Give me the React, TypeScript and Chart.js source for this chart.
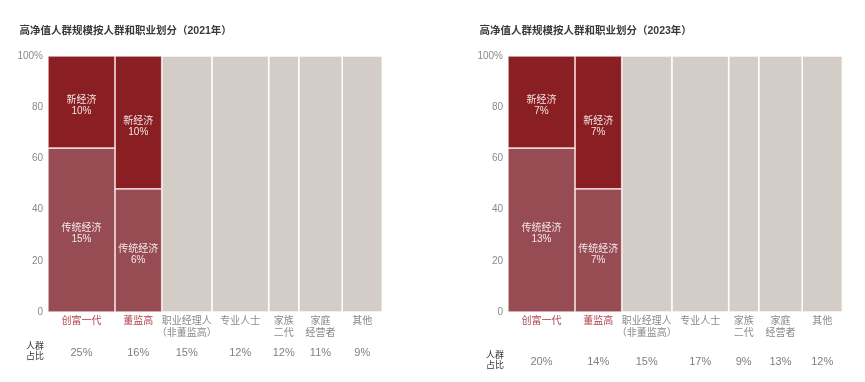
import React, { useEffect, useRef } from "react";
import { Chart, registerables } from "chart.js";

Chart.register(...registerables);

// ---------------- data ----------------
const categories: string[][] = [
  ["创富一代"],
  ["董监高"],
  ["职业经理人", "（非董监高）"],
  ["专业人士"],
  ["家族", "二代"],
  ["家庭", "经营者"],
  ["其他"],
];
const share2021 = [25, 16, 15, 12, 12, 11, 9];
const share2023 = [20, 14, 15, 17, 9, 13, 12];
// column widths as drawn in the reference (both panels drawn with the 2023 shares)
const columnWidths = share2023;
const newEconomy2021 = [10, 10];
const traditional2021 = [15, 6];
const newEconomy2023 = [7, 7];
const traditional2023 = [13, 7];
// height (%) of the 传统经济 segment inside each highlighted column
const traditionalHeight = [64, 48];
const segmentNames = ["新经济", "传统经济"];
const shareRowTitle = ["人群", "占比"];

// ---------------- style ----------------
const COLOR_NEW = "#8a1f23";
const COLOR_TRAD = "#974c53";
const COLOR_GRAY = "#d4ccc6";
const COLOR_RED_TEXT = "#b2434c";
const COLOR_GRAY_TEXT = "#8a8a8a";
const FONT = "'Liberation Sans', 'Noto Sans CJK SC', sans-serif";

function rect(x0: number, x1: number, y0: number, y1: number, color: string, border: string) {
  return {
    type: "line" as const,
    data: [
      { x: x0, y: y0 },
      { x: x1, y: y0 },
      { x: x1, y: y1 },
      { x: x0, y: y1 },
      { x: x0, y: y0 },
    ],
    fill: "shape",
    backgroundColor: color,
    borderColor: border,
    borderWidth: 1.5,
    pointRadius: 0,
    pointHoverRadius: 0,
    tension: 0,
  };
}

type PanelProps = {
  left: number;
  width: number;
  padRight: number;
  title: string;
  newVals: number[];
  tradVals: number[];
  shares: number[];
  shareRowY: number;
};

function Panel(p: PanelProps) {
  const ref = useRef<HTMLCanvasElement | null>(null);
  useEffect(() => {
    const starts: number[] = [];
    let acc = 0;
    columnWidths.forEach((w) => {
      starts.push(acc);
      acc += w;
    });
    const centers = columnWidths.map((w, i) => starts[i] + w / 2);
    const datasets: any[] = [];
    columnWidths.forEach((w, i) => {
      const x0 = starts[i];
      const x1 = x0 + w;
      if (i < 2) {
        datasets.push(rect(x0, x1, 0, traditionalHeight[i], COLOR_TRAD, "rgba(255,236,236,0.8)"));
        datasets.push(rect(x0, x1, traditionalHeight[i], 100, COLOR_NEW, "rgba(255,236,236,0.8)"));
      } else {
        datasets.push(rect(x0, x1, 0, 100, COLOR_GRAY, "rgba(255,255,255,0.95)"));
      }
    });

    const overlay = {
      id: "overlay",
      afterDatasetsDraw(chart: any) {
        const ctx = chart.ctx;
        const xs = chart.scales.x;
        const ys = chart.scales.y;
        const area = chart.chartArea;
        ctx.save();
        // title
        ctx.font = `bold 10.5px ${FONT}`;
        ctx.fillStyle = "#3a3a3a";
        ctx.textAlign = "left";
        ctx.textBaseline = "middle";
        ctx.fillText(p.title, area.left - 28.5, 31.5);
        // segment labels
        ctx.font = `10px ${FONT}`;
        ctx.fillStyle = "rgba(255,255,255,0.88)";
        ctx.textAlign = "center";
        for (let i = 0; i < 2; i++) {
          const cx = xs.getPixelForValue(centers[i]);
          const segs = [
            { name: segmentNames[0], v: p.newVals[i], lo: traditionalHeight[i], hi: 100 },
            { name: segmentNames[1], v: p.tradVals[i], lo: 0, hi: traditionalHeight[i] },
          ];
          segs.forEach((s) => {
            const mid = (ys.getPixelForValue(s.lo) + ys.getPixelForValue(s.hi)) / 2 + 4;
            ctx.fillText(s.name, cx, mid - 5.5);
            ctx.fillText(`${s.v}%`, cx, mid + 5.5);
          });
        }
        // share row
        ctx.font = `11px ${FONT}`;
        ctx.fillStyle = "#808080";
        p.shares.forEach((s, i) => {
          ctx.fillText(`${s}%`, xs.getPixelForValue(centers[i]), p.shareRowY);
        });
        ctx.font = `9px ${FONT}`;
        ctx.fillStyle = "#333";
        ctx.fillText(shareRowTitle[0], area.left - 13, p.shareRowY - 6.5);
        ctx.fillText(shareRowTitle[1], area.left - 13, p.shareRowY + 4);
        ctx.restore();
      },
    };

    const chart = new Chart(ref.current as HTMLCanvasElement, {
      type: "line",
      data: { datasets },
      plugins: [overlay],
      options: {
        animation: false,
        responsive: false,
        devicePixelRatio: 1,
        events: [],
        layout: { padding: { top: 56, right: p.padRight, bottom: 0, left: 0 } },
        plugins: { legend: { display: false }, tooltip: { enabled: false }, title: { display: false } },
        scales: {
          x: {
            type: "linear",
            min: 0,
            max: 100,
            grid: { display: false, drawTicks: false },
            border: { display: false },
            afterBuildTicks: (scale: any) => {
              scale.ticks = centers.map((v) => ({ value: v }));
            },
            afterFit: (scale: any) => {
              scale.height = 70;
            },
            ticks: {
              autoSkip: false,
              maxRotation: 0,
              minRotation: 0,
              padding: 4,
              font: { family: FONT, size: 10, lineHeight: 1.12 },
              color: (ctx: any) => (ctx.index < 2 ? COLOR_RED_TEXT : COLOR_GRAY_TEXT),
              callback: (_v: any, i: number) => categories[i],
            },
          },
          y: {
            min: 0,
            max: 100,
            grid: { display: false, drawTicks: false },
            border: { display: false },
            afterFit: (scale: any) => {
              scale.width = 48;
            },
            ticks: {
              stepSize: 20,
              padding: 5,
              font: { family: FONT, size: 10 },
              color: COLOR_GRAY_TEXT,
              callback: (v: any) => (v === 100 ? "100%" : String(v)),
            },
          },
        },
      } as any,
    });
    return () => chart.destroy();
  }, []);
  return (
    <canvas
      ref={ref}
      width={p.width}
      height={382}
      style={{ position: "absolute", left: p.left, top: 0, width: p.width, height: 382 }}
    />
  );
}

export default function App() {
  return (
    <div style={{ position: "absolute", left: 0, top: 0, width: 865, height: 382, overflow: "hidden", background: "#fff" }}>
      <Panel
        left={0}
        width={430}
        padRight={47.7}
        title="高净值人群规模按人群和职业划分（2021年）"
        newVals={newEconomy2021}
        tradVals={traditional2021}
        shares={share2021}
        shareRowY={353}
      />
      <Panel
        left={460}
        width={405}
        padRight={22.7}
        title="高净值人群规模按人群和职业划分（2023年）"
        newVals={newEconomy2023}
        tradVals={traditional2023}
        shares={share2023}
        shareRowY={362}
      />
    </div>
  );
}
